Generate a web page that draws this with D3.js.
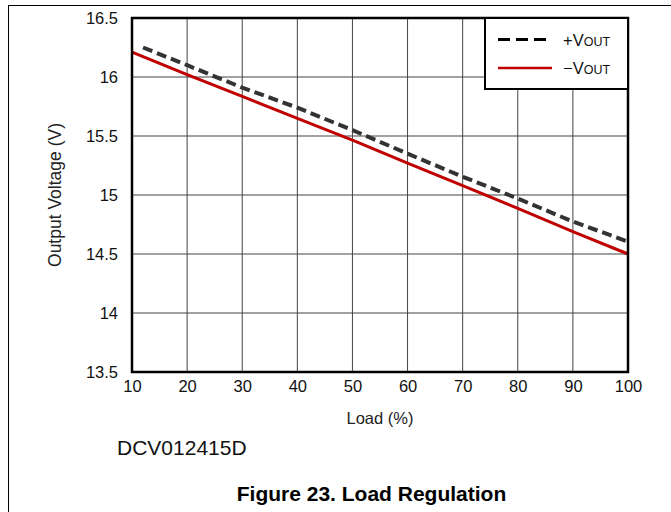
<!DOCTYPE html>
<html lang="en">
<head>
  <meta charset="UTF-8" />
  <title>Load Regulation</title>
  <script src="https://d3js.org/d3.v7.min.js"></script>
  <style>
    body {
      margin: 0;
      background: #fff;
    }
    svg text {
      font-family: "Liberation Sans", Arial, sans-serif;
    }
  </style>
</head>
<body>
  <div id="chart"></div>
  <script>
    // Dados
    const loadPos = [12, 20, 30, 40, 50, 60, 70, 80, 90, 100];
    const voutPos = [16.25, 16.10, 15.91, 15.74, 15.55, 15.35, 15.155, 14.97, 14.775, 14.605];
    const loadNeg = [10, 20, 30, 40, 50, 60, 70, 80, 90, 100];
    const voutNeg = [16.21, 16.02, 15.835, 15.65, 15.465, 15.27, 15.08, 14.887, 14.69, 14.5];

    const xTicks = [10, 20, 30, 40, 50, 60, 70, 80, 90, 100];
    const yTicks = [13.5, 14, 14.5, 15, 15.5, 16, 16.5];

    const width = 671, height = 512;
    const plot = { left: 132, right: 628, top: 18, bottom: 372 };

    const svg = d3.select("#chart")
      .append("svg")
      .attr("width", width)
      .attr("height", height);

    // Moldura da página
    svg.append("line")
      .attr("x1", 8).attr("x2", width).attr("y1", 5.5).attr("y2", 5.5)
      .attr("stroke", "#000").attr("stroke-width", 1);
    svg.append("line")
      .attr("x1", 8.5).attr("x2", 8.5).attr("y1", 5).attr("y2", height)
      .attr("stroke", "#000").attr("stroke-width", 1);

    const x = d3.scaleLinear().domain([10, 100]).range([plot.left, plot.right]);
    const y = d3.scaleLinear().domain([13.5, 16.5]).range([plot.bottom, plot.top]);

    // Grade
    svg.append("g")
      .selectAll("line")
      .data(xTicks.slice(1, -1))
      .join("line")
      .attr("x1", d => x(d)).attr("x2", d => x(d))
      .attr("y1", plot.top).attr("y2", plot.bottom)
      .attr("stroke", "#444").attr("stroke-width", 1);

    svg.append("g")
      .selectAll("line")
      .data(yTicks.slice(1, -1))
      .join("line")
      .attr("x1", plot.left).attr("x2", plot.right)
      .attr("y1", d => y(d)).attr("y2", d => y(d))
      .attr("stroke", "#444").attr("stroke-width", 1);

    // Eixos (só os rótulos)
    const xAxis = svg.append("g")
      .attr("transform", `translate(0, ${plot.bottom})`)
      .call(d3.axisBottom(x).tickValues(xTicks).tickSize(0).tickPadding(8).tickFormat(d3.format("d")));
    const yAxis = svg.append("g")
      .attr("transform", `translate(${plot.left}, 0)`)
      .call(d3.axisLeft(y).tickValues(yTicks).tickSize(0).tickPadding(14).tickFormat(d => String(d)));

    [xAxis, yAxis].forEach(a => {
      a.select(".domain").remove();
      a.selectAll("text")
        .style("font-family", "'Liberation Sans', Arial, sans-serif")
        .style("font-size", "16.5px")
        .attr("fill", "#111");
    });
    xAxis.selectAll("text").attr("dy", "0.71em");

    // Linhas de dados
    const line = d3.line()
      .x(d => x(d[0]))
      .y(d => y(d[1]));

    svg.append("path")
      .datum(loadNeg.map((d, i) => [d, voutNeg[i]]))
      .attr("fill", "none")
      .attr("stroke", "#c00000")
      .attr("stroke-width", 3)
      .attr("d", line);

    svg.append("path")
      .datum(loadPos.map((d, i) => [d, voutPos[i]]))
      .attr("fill", "none")
      .attr("stroke", "#333")
      .attr("stroke-width", 4)
      .attr("stroke-dasharray", "10,5")
      .attr("d", line);

    // Caixa da área do gráfico
    svg.append("rect")
      .attr("x", plot.left).attr("y", plot.top)
      .attr("width", plot.right - plot.left)
      .attr("height", plot.bottom - plot.top)
      .attr("fill", "none")
      .attr("stroke", "#000")
      .attr("stroke-width", 2.5);

    // Legenda
    const legend = svg.append("g");
    legend.append("rect")
      .attr("x", 485).attr("y", plot.top)
      .attr("width", plot.right - 485).attr("height", 71)
      .attr("fill", "#fff")
      .attr("stroke", "#000")
      .attr("stroke-width", 2);

    const legendItems = [
      { sign: "+", color: "#000", dash: "12,6", width: 3, yy: 39.5 },
      { sign: "\u2212", color: "#c00000", dash: null, width: 2.5, yy: 68 }
    ];
    legendItems.forEach(it => {
      legend.append("line")
        .attr("x1", 498).attr("x2", 552)
        .attr("y1", it.yy).attr("y2", it.yy)
        .attr("stroke", it.color)
        .attr("stroke-width", it.width)
        .attr("stroke-dasharray", it.dash);
      const t = legend.append("text")
        .attr("x", 563).attr("y", it.yy + 6)
        .attr("font-size", 16.5)
        .attr("fill", "#111");
      t.append("tspan").text(it.sign + "V");
      t.append("tspan").attr("font-size", 12.5).text("OUT");
    });

    // Títulos dos eixos
    svg.append("text")
      .attr("x", 380).attr("y", 424)
      .attr("text-anchor", "middle")
      .attr("font-size", 16.5)
      .attr("fill", "#222")
      .text("Load (%)");

    svg.append("text")
      .attr("transform", `translate(61, 195) rotate(-90)`)
      .attr("text-anchor", "middle")
      .attr("font-size", 17.5)
      .attr("fill", "#222")
      .text("Output Voltage (V)");

    svg.append("text")
      .attr("x", 117).attr("y", 455)
      .attr("font-size", 21)
      .attr("fill", "#111")
      .text("DCV012415D");

    svg.append("text")
      .attr("x", 371.5).attr("y", 501)
      .attr("text-anchor", "middle")
      .attr("font-size", 21)
      .attr("font-weight", "bold")
      .attr("fill", "#000")
      .text("Figure 23. Load Regulation");
  </script>
</body>
</html>
